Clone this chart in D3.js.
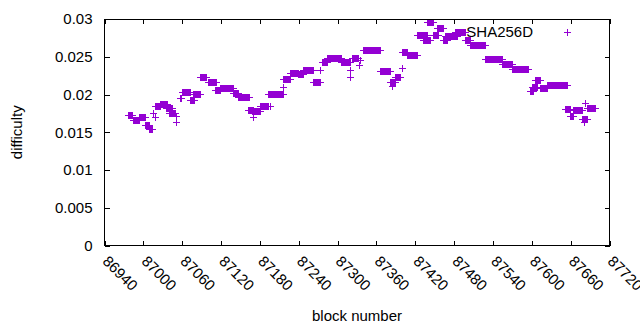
<!DOCTYPE html>
<html>
<head>
<meta charset="utf-8">
<title>difficulty</title>
<script src="https://cdn.jsdelivr.net/npm/d3@7/dist/d3.min.js"></script>
<style>
  body { margin: 0; background: #fff; }
  text { font-family: "Liberation Sans", Arial, sans-serif; fill: #000; }
</style>
</head>
<body>
<script>
// difficulty runs: blocks runStart..runEnd share the value runDiff
var runStart = [86977, 86984, 86993, 87002, 87008, 87015, 87018, 87018, 87026, 87035, 87040, 87050, 87051,
                87057, 87060, 87072, 87077, 87088, 87100, 87111, 87118, 87138, 87146, 87162, 87169, 87168,
                87180, 87193, 87196, 87215, 87216, 87226, 87239, 87247, 87262, 87273, 87276, 87284, 87305,
                87319, 87319, 87322, 87333, 87335, 87339, 87366, 87381, 87384, 87389, 87399, 87400, 87407,
                87423, 87432, 87438, 87447, 87454, 87463, 87466, 87481, 87497, 87505, 87528, 87554, 87569,
                87597, 87600, 87605, 87613, 87623, 87651, 87659, 87664, 87678, 87681, 87682, 87685];
var runEnd   = [86982, 86993, 87002, 87008, 87014, 87015, 87018, 87026, 87037, 87044, 87049, 87050, 87051,
                87058, 87072, 87078, 87088, 87096, 87112, 87118, 87138, 87146, 87163, 87169, 87169, 87180,
                87192, 87216, 87196, 87215, 87226, 87239, 87247, 87262, 87273, 87273, 87284, 87305, 87319,
                87319, 87319, 87331, 87333, 87335, 87366, 87381, 87389, 87384, 87396, 87399, 87407, 87423,
                87438, 87443, 87447, 87455, 87463, 87469, 87484, 87497, 87505, 87528, 87554, 87569, 87594,
                87602, 87608, 87613, 87623, 87654, 87659, 87664, 87678, 87685, 87681, 87682, 87698];
var runDiff  = [0.01735, 0.01662, 0.01702, 0.0159, 0.0154, 0.01755, 0.0170, 0.0185, 0.0188, 0.0182, 0.01755, 0.0171, 0.0164,
                0.0195, 0.0203, 0.01927, 0.02007, 0.02238, 0.02166, 0.02066, 0.02086, 0.0202, 0.01967, 0.0179, 0.0170, 0.01775,
                0.01848, 0.02007, 0.0185, 0.02095, 0.02205, 0.02291, 0.0227, 0.02331, 0.02166, 0.02325, 0.02437, 0.0249, 0.02437,
                0.02325, 0.0223, 0.02477, 0.0239, 0.02457, 0.02596, 0.02305, 0.02172, 0.0211, 0.02238, 0.02347, 0.02563, 0.02523,
                0.02788, 0.02728, 0.0296, 0.0279, 0.02887, 0.0272, 0.02775, 0.02834, 0.02728, 0.0265, 0.02464, 0.0241, 0.02344,
                0.0204, 0.021, 0.02192, 0.0208, 0.02132, 0.01808, 0.0172, 0.01795, 0.01675, 0.01636, 0.01887, 0.01821];
var xTicks = [86940, 87000, 87060, 87120, 87180, 87240, 87300, 87360, 87420, 87480, 87540, 87600, 87660, 87720];
var yTicks = [0, 0.005, 0.01, 0.015, 0.02, 0.025, 0.03];
var seriesName = "SHA256D";

var width = 640, height = 330,
    plotLeft = 104.5, plotRight = 609.5, plotTop = 19, plotBottom = 245.5,
    color = "#9400d3";

var x = d3.scaleLinear().domain([86940, 87720]).range([plotLeft, plotRight]);
var y = d3.scaleLinear().domain([0, 0.03]).range([plotBottom, plotTop]);

var points = [];
runStart.forEach(function(s, i) {
    for (var b = s; b <= runEnd[i]; b++) points.push({block: b, diff: runDiff[i]});
});

var svg = d3.select("body").append("svg")
    .attr("width", width).attr("height", height);

// plus marker, 7px
var plus = "M-3.5,0H3.5M0,-3.5V3.5";

svg.append("g")
    .selectAll("path")
    .data(points)
  .enter().append("path")
    .attr("d", plus)
    .attr("transform", function(d) {
        return "translate(" + (Math.round(x(d.block)) + 0.5) + "," + (Math.round(y(d.diff)) + 0.5) + ")";
    })
    .attr("stroke", color)
    .attr("stroke-width", 1)
    .attr("fill", "none")
    .attr("shape-rendering", "crispEdges");

// axes, ticks pointing inward and mirrored
var xAxisB = d3.axisBottom(x).tickValues(xTicks).tickSize(-5).tickFormat("");
var xAxisT = d3.axisTop(x).tickValues(xTicks).tickSize(-5).tickFormat("");
var yAxisL = d3.axisLeft(y).tickValues(yTicks).tickSize(-5).tickFormat("");
var yAxisR = d3.axisRight(y).tickValues(yTicks).tickSize(-5).tickFormat("");

svg.append("g").attr("transform", "translate(0," + plotBottom + ")").call(xAxisB);
svg.append("g").attr("transform", "translate(0," + plotTop + ")").call(xAxisT);
svg.append("g").attr("transform", "translate(" + plotLeft + ",0)").call(yAxisL);
svg.append("g").attr("transform", "translate(" + plotRight + ",0)").call(yAxisR);
svg.selectAll(".domain").remove();
svg.selectAll(".tick line").attr("stroke", "#000").attr("shape-rendering", "crispEdges");

svg.append("rect")
    .attr("x", plotLeft).attr("y", plotTop)
    .attr("width", plotRight - plotLeft).attr("height", plotBottom - plotTop)
    .attr("fill", "none").attr("stroke", "#000")
    .attr("shape-rendering", "crispEdges");

// tick labels
svg.append("g").selectAll("text")
    .data(yTicks)
  .enter().append("text")
    .attr("x", plotLeft - 12)
    .attr("y", function(d) { return y(d); })
    .attr("dy", "0.35em")
    .attr("text-anchor", "end")
    .style("font-size", "15px")
    .text(function(d) { return d; });

svg.append("g").selectAll("text")
    .data(xTicks)
  .enter().append("text")
    .attr("transform", function(d) { return "translate(" + (x(d) + 1) + "," + (plotBottom + 13) + ") rotate(45)"; })
    .attr("dy", "0.35em")
    .attr("text-anchor", "start")
    .style("font-size", "15px")
    .text(function(d) { return d; });

// axis titles
svg.append("text")
    .attr("x", (plotLeft + plotRight) / 2).attr("y", 321)
    .attr("text-anchor", "middle")
    .style("font-size", "15px")
    .text("block number");

svg.append("text")
    .attr("transform", "translate(22," + ((plotTop + plotBottom) / 2) + ") rotate(-90)")
    .attr("text-anchor", "middle")
    .style("font-size", "15px")
    .text("difficulty");

// legend
svg.append("text")
    .attr("x", 533).attr("y", 32)
    .attr("dy", "0.35em")
    .attr("text-anchor", "end")
    .style("font-size", "15px")
    .text(seriesName);

svg.append("path")
    .attr("d", plus)
    .attr("transform", "translate(567.5,32.5)")
    .attr("stroke", color)
    .attr("fill", "none")
    .attr("shape-rendering", "crispEdges");
</script>
</body>
</html>
